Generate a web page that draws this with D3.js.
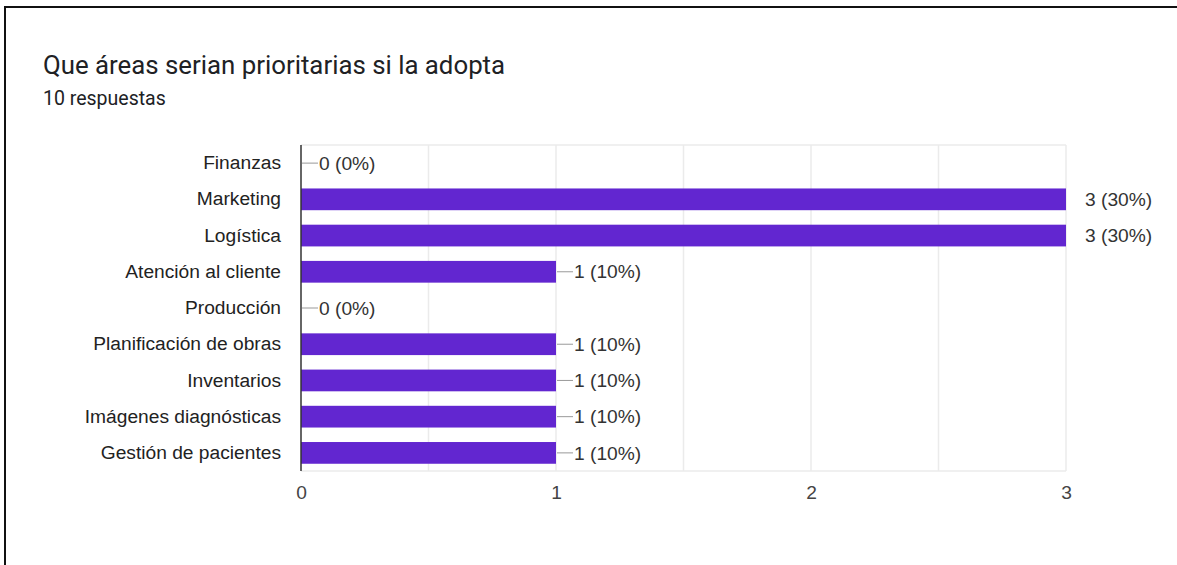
<!DOCTYPE html>
<html>
<head>
<meta charset="utf-8">
<script src="https://cdn.jsdelivr.net/npm/d3@7"></script>
<style>
  body { margin: 0; background: #fff; overflow: hidden; }
  svg { display: block; }
</style>
</head>
<body>
<svg id="chart" width="1177" height="565"></svg>
<script>
var categories = ['Finanzas', 'Marketing', 'Logística', 'Atención al cliente', 'Producción',
                  'Planificación de obras', 'Inventarios', 'Imágenes diagnósticas', 'Gestión de pacientes'];
var counts = [0, 3, 3, 1, 0, 1, 1, 1, 1];
var percents = [0, 30, 30, 10, 0, 10, 10, 10, 10];
var xTicks = [0, 1, 2, 3];
var gridTicks = [0.5, 1, 1.5, 2, 2.5, 3];
var title = 'Que áreas serian prioritarias si la adopta';
var subtitle = '10 respuestas';

function drawChart() {
    let svg = d3.select('#chart');
    var left = 301, top = 145, W = 765, H = 326;

    // outer card border (only top and left edges are in frame)
    svg.append('path')
        .attr('d', 'M5,565 L5,7 L1177,7')
        .style('fill', 'none')
        .style('stroke', '#111')
        .style('stroke-width', '2px');

    svg.append('text')
        .attr('x', 43).attr('y', 74)
        .style('font-family', 'Roboto')
        .style('font-size', '25.8px')
        .style('fill', '#202124')
        .text(title);
    svg.append('text')
        .attr('x', 43).attr('y', 105)
        .style('font-family', 'Roboto')
        .style('font-size', '19.5px')
        .style('fill', '#202124')
        .text(subtitle);

    var x = d3.scaleLinear()
            .domain([0, 3])
            .range([left, left + W]);
    var y = d3.scaleBand()
            .domain(categories)
            .range([top, top + H])
            .paddingInner(0.4)
            .paddingOuter(0.2);

    // grid
    svg.append('g').selectAll('line.grid')
        .data(gridTicks)
        .join('line')
        .attr('x1', d => x(d)).attr('x2', d => x(d))
        .attr('y1', top).attr('y2', top + H)
        .style('stroke', '#ebebeb')
        .style('stroke-width', '1.5px');
    svg.append('g').selectAll('line.hgrid')
        .data([top, top + H])
        .join('line')
        .attr('x1', left).attr('x2', left + W)
        .attr('y1', d => d).attr('y2', d => d)
        .style('stroke', '#ebebeb')
        .style('stroke-width', '1.5px');

    // bars
    svg.append('g').selectAll('rect.bar')
        .data(categories)
        .join('rect')
        .attr('x', x(0))
        .attr('y', d => y(d))
        .attr('width', (d, i) => x(counts[i]) - x(0))
        .attr('height', y.bandwidth())
        .style('fill', '#6226d0');

    // leader lines for labels
    var maxVal = d3.max(counts);
    svg.append('g').selectAll('line.lead')
        .data(categories.filter((d, i) => counts[i] < maxVal))
        .join('line')
        .attr('x1', d => x(counts[categories.indexOf(d)]) + 1)
        .attr('x2', d => x(counts[categories.indexOf(d)]) + 17)
        .attr('y1', d => y(d) + y.bandwidth() / 2)
        .attr('y2', d => y(d) + y.bandwidth() / 2)
        .style('stroke', '#999')
        .style('stroke-width', '1px');

    // value labels
    svg.append('g').selectAll('text.val')
        .data(categories)
        .join('text')
        .attr('x', (d, i) => x(counts[i]) + (counts[i] < maxVal ? 18 : 19))
        .attr('y', d => y(d) + y.bandwidth() / 2)
        .attr('dy', '0.35em')
        .style('font-family', 'Liberation Sans, Arial')
        .style('font-size', '19.2px')
        .style('fill', '#333')
        .text((d, i) => counts[i] + ' (' + percents[i] + '%)');

    // category axis
    var yAxis = svg.append('g')
        .attr('transform', 'translate(' + left + ',0)')
        .call(d3.axisLeft(y).tickSize(0).tickPadding(20));
    yAxis.select('.domain').remove();
    yAxis.selectAll('text')
        .style('font-family', 'Liberation Sans, Arial')
        .style('font-size', '19.2px')
        .style('fill', '#222');
    svg.append('line')
        .attr('x1', left).attr('x2', left)
        .attr('y1', top).attr('y2', top + H)
        .style('stroke', '#333')
        .style('stroke-width', '1.5px');

    // value axis
    var xAxis = svg.append('g')
        .attr('transform', 'translate(0,' + (top + H) + ')')
        .call(d3.axisBottom(x).tickValues(xTicks).tickSize(0).tickPadding(14).tickFormat(d3.format('d')));
    xAxis.select('.domain').remove();
    xAxis.selectAll('text')
        .style('font-family', 'Liberation Sans, Arial')
        .style('font-size', '19.2px')
        .style('fill', '#444');
}

drawChart();
</script>
</body>
</html>
